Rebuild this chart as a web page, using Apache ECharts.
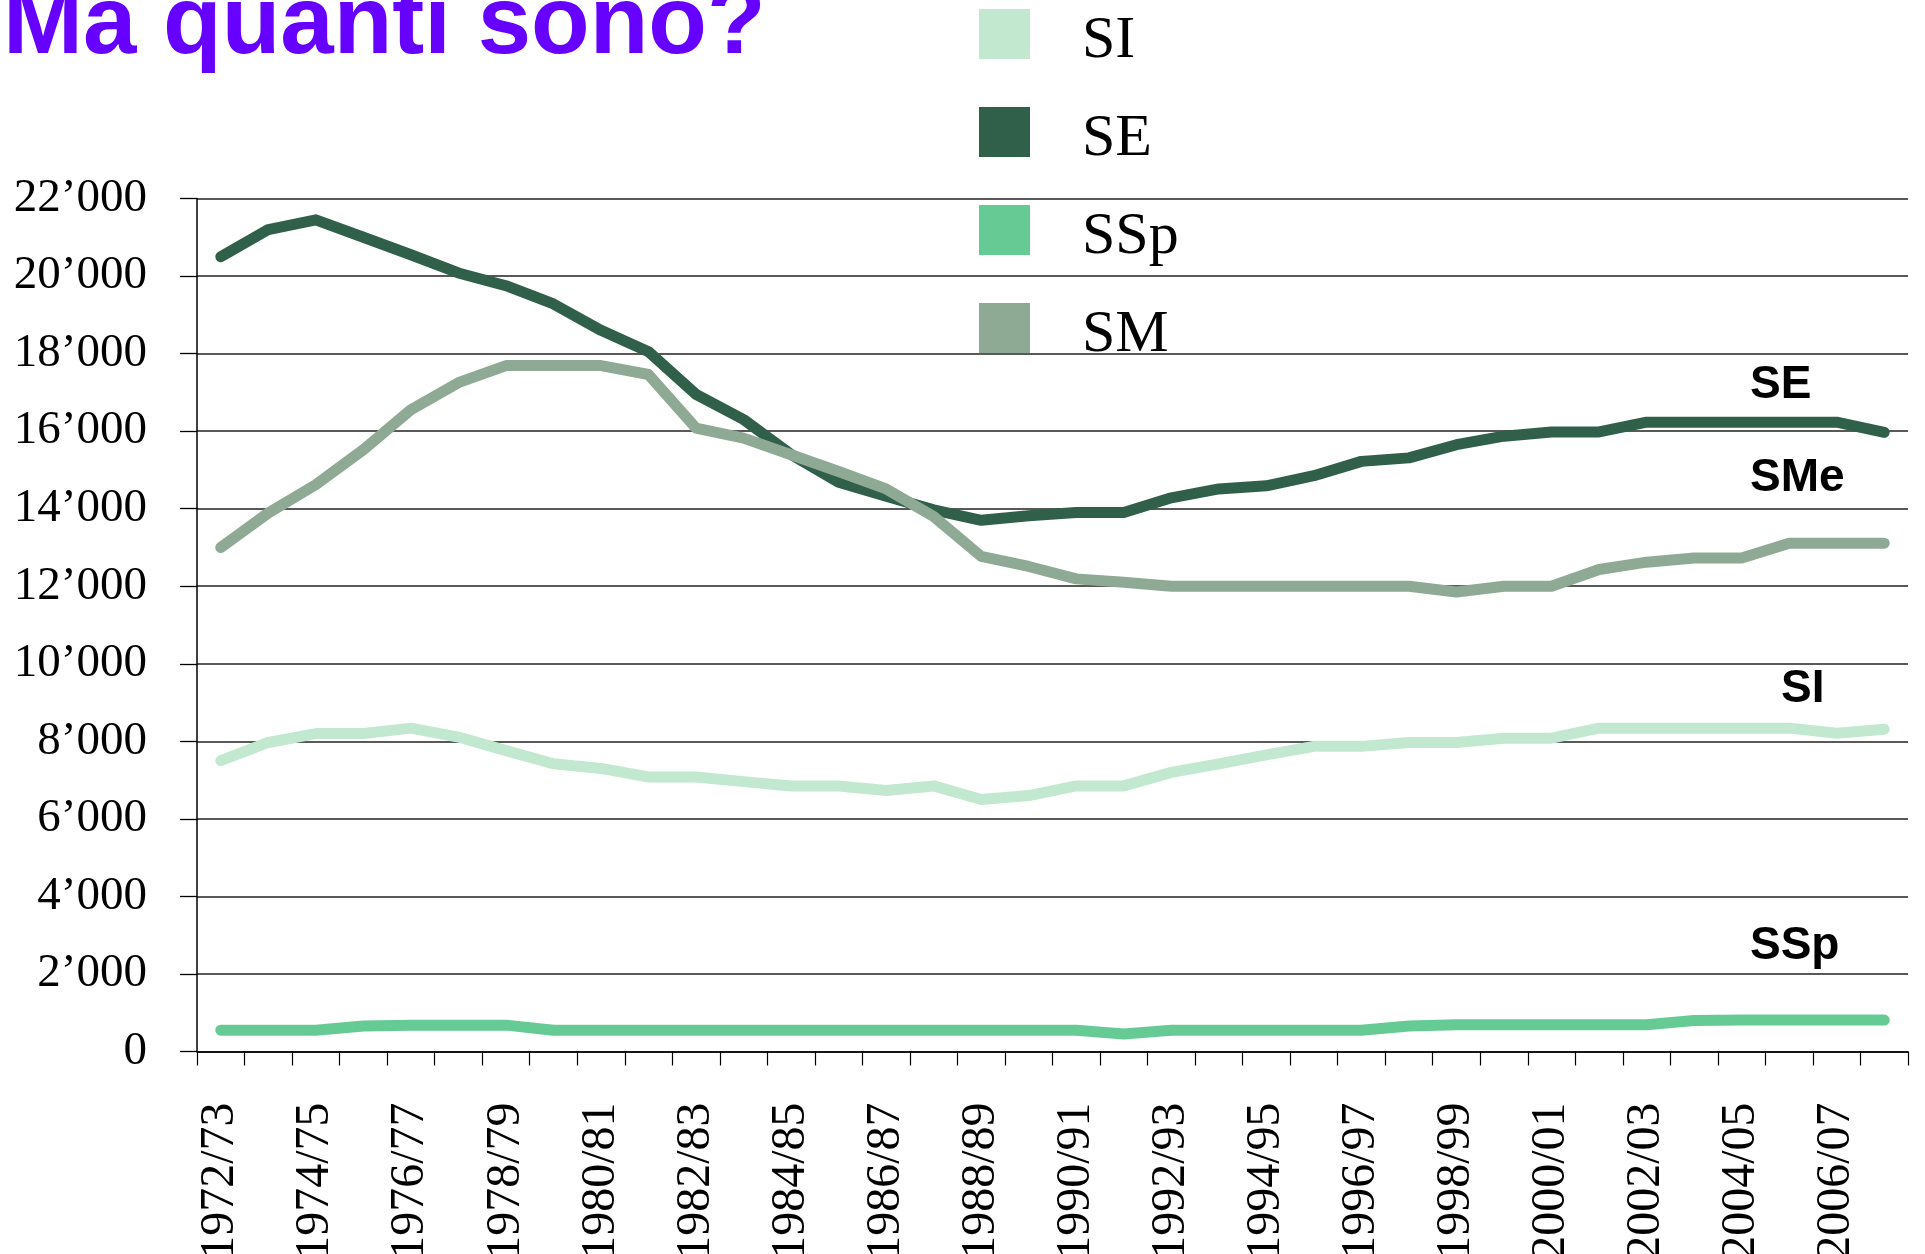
<!DOCTYPE html>
<html>
<head>
<meta charset="utf-8">
<script src="https://cdn.jsdelivr.net/npm/echarts@6/dist/echarts.min.js"></script>
<style>
  html, body { margin: 0; padding: 0; background: #fff; }
  #chart { width: 1925px; height: 1254px; }
</style>
</head>
<body>
<div id="chart"></div>
<script>
// ===== dati =====
const ANNI = [
  '1972/73', '1973/74', '1974/75', '1975/76', '1976/77', '1977/78', '1978/79', '1979/80',
  '1980/81', '1981/82', '1982/83', '1983/84', '1984/85', '1985/86', '1986/87', '1987/88',
  '1988/89', '1989/90', '1990/91', '1991/92', '1992/93', '1993/94', '1994/95', '1995/96',
  '1996/97', '1997/98', '1998/99', '1999/00', '2000/01', '2001/02', '2002/03', '2003/04',
  '2004/05', '2005/06', '2006/07', '2007/08',
];
const SI = [7500, 7970, 8200, 8200, 8340, 8110, 7760, 7420, 7300, 7080, 7080, 6960, 6850, 6850, 6730, 6850,
  6500, 6600, 6850, 6850, 7200, 7420, 7650, 7870, 7870, 7970, 7970, 8080, 8080, 8340, 8340, 8340, 8340, 8340, 8210, 8310];
const SE = [20500, 21200, 21450, 21000, 20550, 20080, 19750, 19280, 18600, 18050, 16950, 16300, 15400, 14680, 14320, 13970,
  13700, 13820, 13900, 13900, 14280, 14510, 14590, 14850, 15220, 15310, 15650, 15870, 15980, 15980, 16230, 16230, 16230, 16230, 16230, 15970];
const SSP = [550, 550, 550, 660, 680, 680, 680, 550, 550, 550, 550, 550, 550, 550, 550, 550,
  550, 550, 550, 450, 550, 550, 550, 550, 550, 660, 690, 690, 690, 690, 690, 800, 810, 810, 810, 810];
const SM = [13000, 13890, 14620, 15520, 16550, 17250, 17690, 17690, 17690, 17460, 16080, 15820, 15390, 14960, 14510, 13800,
  12770, 12510, 12190, 12100, 12000, 12000, 12000, 12000, 12000, 12000, 11850, 12000, 12000, 12430, 12620, 12730, 12730, 13110, 13110, 13110];

const COLORI = { SI: '#c2e9d0', SE: '#30604a', SSp: '#66ca94', SM: '#8faa94' };
const SERIF = "'Liberation Serif', 'Times New Roman', serif";
const SANS = "'Liberation Sans', Arial, sans-serif";

// ---- formato: 22’000 ----
const fmtMigliaia = v => String(v).replace(/\B(?=(\d{3})+(?!\d))/g, '\u2019');

const linea = (nome, dati) => ({
  name: nome, type: 'line', data: dati,
  showSymbol: false, symbol: 'none',
  lineStyle: { width: 11, color: COLORI[nome], cap: 'round', join: 'round' },
  itemStyle: { color: COLORI[nome] },
});

// etichette a destra
const etichetta = (testo, x, y) => ({
  type: 'text', left: x, top: y,
  style: { text: testo, font: `bold 46px ${SANS}`, fill: '#000' },
});

// quadrato della legenda in alto, spazio vuoto sotto (testo un po' piu' in basso)
const ICONA = 'path://M0,0H51V50H0Z M0,64H0.01';

const chart = echarts.init(document.getElementById('chart'), null, { renderer: 'canvas' });
chart.setOption({
  animation: false,
  backgroundColor: '#fff',
  grid: {
    left: 197, right: 17, top: 198.5, bottom: 202.5,
    containLabel: false, outerBoundsMode: 'none',
  },
  legend: {
    orient: 'vertical', left: 979, top: 9, padding: 0,
    icon: ICONA, itemWidth: 51, itemHeight: 64, itemGap: 34,
    data: ['SI', 'SE', 'SSp', 'SM'],
    textStyle: { fontFamily: SERIF, fontSize: 60, color: '#000', padding: [0, 0, 0, 47] },
  },
  xAxis: {
    type: 'category', data: ANNI, boundaryGap: true,
    axisLine: { lineStyle: { color: '#000', width: 1.5 } },
    axisTick: { show: true, interval: 0, length: 14, lineStyle: { color: '#000', width: 1.2 } },
    axisLabel: {
      interval: 1, rotate: 90, margin: 51,
      fontFamily: SERIF, fontSize: 48, color: '#000',
    },
  },
  yAxis: {
    type: 'value', min: 0, max: 22000, interval: 2000,
    axisLine: { show: true, lineStyle: { color: '#000', width: 1.5 } },
    axisTick: { show: true, length: 17, lineStyle: { color: '#000', width: 1.3 } },
    splitLine: { show: true, lineStyle: { color: '#222', width: 1.5 } },
    axisLabel: {
      margin: 50, fontFamily: SERIF, fontSize: 47, color: '#000',
      formatter: fmtMigliaia,
    },
  },
  series: [linea('SI', SI), linea('SE', SE), linea('SSp', SSP), linea('SM', SM)],
  graphic: [
    {
      type: 'text', left: 3, top: -21,
      style: { text: 'Ma quanti sono?', font: `bold 96px ${SANS}`, fill: '#6600ff' },
    },
    etichetta('SE', 1750, 362),
    etichetta('SMe', 1750, 455),
    etichetta('SI', 1781, 666),
    etichetta('SSp', 1750, 923),
  ],
});
window.addEventListener('resize', () => chart.resize());
</script>
</body>
</html>
